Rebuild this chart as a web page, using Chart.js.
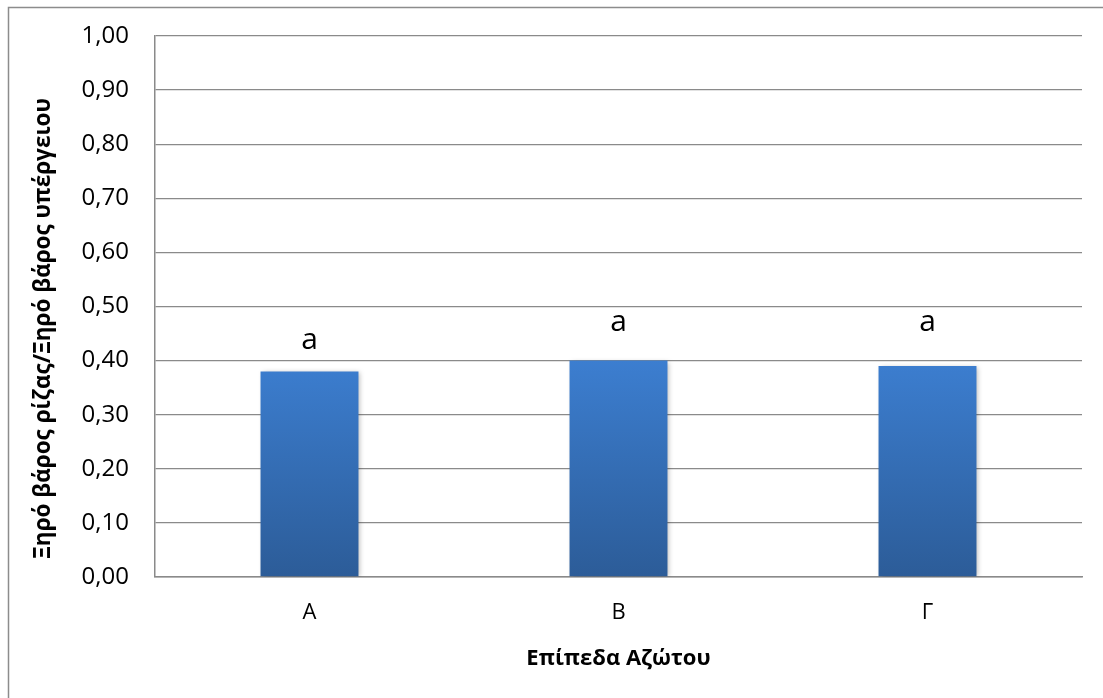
<!DOCTYPE html>
<html>
<head>
<meta charset="utf-8">
<script src="https://cdn.jsdelivr.net/npm/chart.js@4/dist/chart.umd.min.js"></script>
<style>
  html, body { margin: 0; padding: 0; background: #fff; }
  #wrap { width: 1103px; height: 698px; position: relative; }
</style>
</head>
<body>
<div id="wrap"><canvas id="c" width="1103" height="698"></canvas></div>
<script>
// Root-to-shoot dry weight ratio per nitrogen level
const levels = ['Α', 'Β', 'Γ'];
const ratios = [0.38, 0.40, 0.39];
// significance letters and the value level each one sits at
const letters = ['a', 'a', 'a'];
const letterLevels = [0.434, 0.467, 0.467];
const yTicks = [0, 0.1, 0.2, 0.3, 0.4, 0.5, 0.6, 0.7, 0.8, 0.9, 1.0];
const yTitle = 'Ξηρό βάρος ρίζας/Ξηρό βάρος υπέργειου';

const FONT = '"Open Sans", "Noto Sans", sans-serif';
const GRID = '#8a8a8a';

// frame around the whole figure
const framePlugin = {
  id: 'frame',
  beforeDraw(chart) {
    const ctx = chart.ctx;
    ctx.save();
    ctx.strokeStyle = '#8c8c8c';
    ctx.lineWidth = 1.5;
    ctx.strokeRect(8.5, 7.5, 1300, 900);
    ctx.restore();
  }
};

// vertical axis title, set a little below the axis middle
const yTitlePlugin = {
  id: 'yTitle',
  afterDraw(chart) {
    const ctx = chart.ctx;
    const area = chart.chartArea;
    ctx.save();
    ctx.translate(44, (area.top + area.bottom) / 2 + 22);
    ctx.rotate(-Math.PI / 2);
    ctx.fillStyle = '#000';
    ctx.font = 'bold 22.5px ' + FONT;
    ctx.textAlign = 'center';
    ctx.textBaseline = 'middle';
    ctx.fillText(yTitle, 0, 0);
    ctx.restore();
  }
};

// soft drop shadow under the bars
const shadowPlugin = {
  id: 'barShadow',
  beforeDatasetsDraw(chart) {
    const ctx = chart.ctx;
    ctx.save();
    ctx.shadowColor = 'rgba(0,0,0,0.28)';
    ctx.shadowBlur = 5;
    ctx.shadowOffsetX = 2;
    ctx.shadowOffsetY = 1;
  },
  afterDatasetsDraw(chart) {
    chart.ctx.restore();
  }
};

// significance letters above the bars
const lettersPlugin = {
  id: 'letters',
  afterDatasetsDraw(chart) {
    const ctx = chart.ctx;
    const xs = chart.scales.x, ys = chart.scales.y;
    ctx.save();
    ctx.fillStyle = '#000';
    ctx.font = '30px ' + FONT;
    ctx.textAlign = 'center';
    ctx.textBaseline = 'middle';
    letters.forEach((t, i) => {
      ctx.fillText(t, xs.getPixelForValue(i), ys.getPixelForValue(letterLevels[i]) - 2);
    });
    ctx.restore();
  }
};

function barGradient(context) {
  const chart = context.chart;
  const area = chart.chartArea;
  if (!area) return '#3a7acb';
  const ys = chart.scales.y;
  const top = ys.getPixelForValue(0.40);
  const g = chart.ctx.createLinearGradient(0, top, 0, area.bottom);
  g.addColorStop(0, '#3c7ed0');
  g.addColorStop(1, '#2c5c98');
  return g;
}

new Chart(document.getElementById('c'), {
  type: 'bar',
  data: {
    labels: levels,
    datasets: [{
      data: ratios,
      backgroundColor: barGradient,
      borderWidth: 0,
      categoryPercentage: 1,
      barPercentage: 0.317
    }]
  },
  options: {
    responsive: false,
    animation: false,
    devicePixelRatio: 1,
    layout: { padding: { top: 36, right: 21, left: 0, bottom: 0 } },
    plugins: {
      legend: { display: false },
      tooltip: { enabled: false }
    },
    scales: {
      x: {
        afterFit(s) { s.height = 121; },
        grid: { display: false, drawTicks: false },
        border: { display: true, color: GRID, width: 1.5 },
        ticks: { color: '#000', font: { family: FONT, size: 22 }, padding: 23 },
        title: {
          display: true,
          text: 'Επίπεδα Αζώτου',
          color: '#000',
          font: { family: FONT, size: 22, weight: 'bold' },
          padding: { top: 0, bottom: 26 }
        }
      },
      y: {
        min: 0,
        max: 1,
        afterFit(s) { s.width = 155; s.paddingTop = 0; s.paddingBottom = 0; },
        afterBuildTicks(s) { s.ticks = yTicks.map(v => ({ value: v })); },
        grid: { color: GRID, lineWidth: 1.3, drawTicks: false },
        border: { display: true, color: GRID, width: 1.5 },
        ticks: {
          color: '#000',
          font: { family: FONT, size: 24, lineHeight: 1 },
          padding: 26,
          callback: v => Number(v).toFixed(2).replace('.', ',')
        },
        title: { display: false }
      }
    }
  },
  plugins: [framePlugin, yTitlePlugin, shadowPlugin, lettersPlugin]
});
</script>
</body>
</html>
